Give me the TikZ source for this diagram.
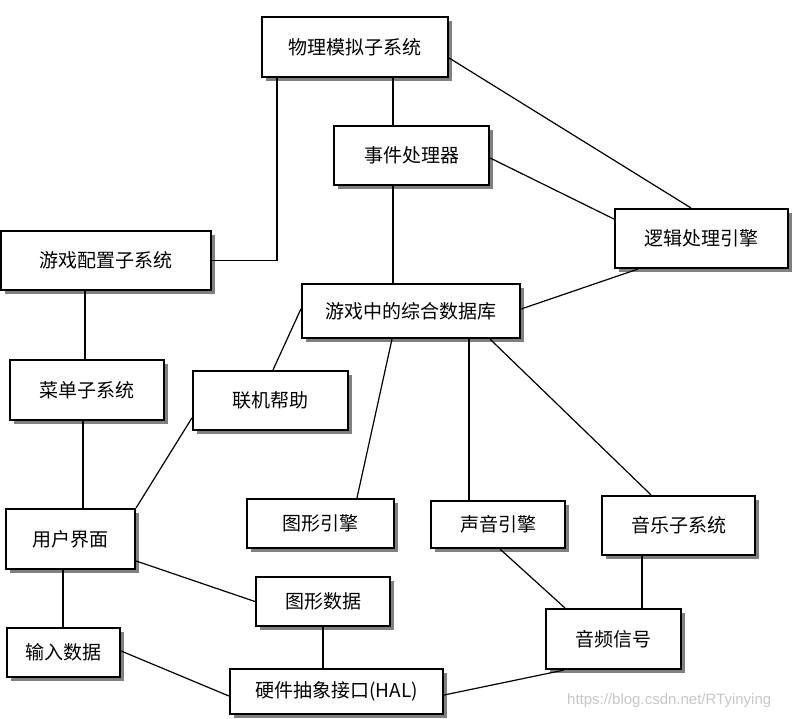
\documentclass[tikz,border=0pt]{standalone}
\usepackage{fontspec}
\newfontfamily\cjk{Noto Sans CJK SC}
\newfontfamily\wmfont{Liberation Sans}
\usetikzlibrary{shadows}
\tikzset{
  box/.style={draw=black, line width=2.2pt, fill=white, inner sep=0pt,
    font=\cjk\fontsize{19}{21}\selectfont,
    drop shadow={shadow xshift=4pt, shadow yshift=-4pt, fill=black!50, opacity=1}},
  link/.style={draw=black, line width=1.6pt},
  thin/.style={draw=black, line width=1.2pt}
}
\begin{document}
\begin{tikzpicture}[x=1pt, y=-1pt]
\useasboundingbox (0,0) rectangle (793,719);
% boxes
\node[box, minimum width=186pt, minimum height=60pt] (phys) at (355,47) {物理模拟子系统};
\node[box, minimum width=155pt, minimum height=59pt] (event) at (411.5,155.5) {事件处理器};
\node[box, minimum width=173pt, minimum height=59pt] (logic) at (701.5,238.5) {逻辑处理引擎};
\node[box, minimum width=210pt, minimum height=59pt] (cfg) at (106,260.5) {游戏配置子系统};
\node[box, minimum width=218pt, minimum height=54pt] (db) at (411,311) {游戏中的综合数据库};
\node[box, minimum width=154pt, minimum height=60pt] (menu) at (87,390) {菜单子系统};
\node[box, minimum width=155pt, minimum height=59pt] (help) at (270.5,400.5) {联机帮助};
\node[box, minimum width=147pt, minimum height=49pt] (geng) at (320.5,523.5) {图形引擎};
\node[box, minimum width=134pt, minimum height=47pt] (seng) at (498,524.5) {声音引擎};
\node[box, minimum width=153pt, minimum height=59pt] (music) at (678.5,525.5) {音乐子系统};
\node[box, minimum width=129pt, minimum height=60pt] (ui) at (70.5,539) {用户界面};
\node[box, minimum width=134pt, minimum height=49pt] (gdata) at (323,601.5) {图形数据};
\node[box, minimum width=135pt, minimum height=60pt] (audio) at (613.5,639) {音频信号};
\node[box, minimum width=113pt, minimum height=49pt] (input) at (63.5,652.5) {输入数据};
\node[box, minimum width=213pt, minimum height=45pt] (hal) at (336.5,691.5) {硬件抽象接口(HAL)};
% connectors
\draw[link] ([xshift=16pt]phys.south west) |- (cfg.east);
\path ([xshift=-18.5pt]event.north) coordinate (pe);
\draw[link] (pe) -- (pe |- phys.south);
\draw[thin] ([yshift=-11pt]phys.east) -- ([xshift=77pt]logic.north west);
\draw[thin] ([yshift=-2.5pt]event.east) -- ([yshift=19.5pt]logic.west);
\path ([xshift=-18.5pt]event.south) coordinate (ed);
\draw[link] (ed) -- (ed |- db.north);
\draw[thin] ([xshift=24pt]logic.south west) -- ([yshift=2pt]db.east);
\path ([xshift=-21pt]cfg.south) coordinate (cm);
\draw[link] (cm) -- (cm |- menu.north);
\path ([xshift=-4pt]menu.south) coordinate (mu);
\draw[link] (mu) -- (mu |- ui.north);
\draw[thin] ([yshift=2pt]db.west) -- ([xshift=2.5pt]help.north);
\draw[thin] ([yshift=-17.5pt]help.west) -- (ui.north east);
\draw[thin] ([xshift=-19pt]db.south) -- ([xshift=36.5pt]geng.north);
\path ([xshift=-29pt]seng.north) coordinate (ds);
\draw[link] (ds) -- (ds |- db.south);
\draw[thin] ([xshift=79pt]db.south) -- ([xshift=-27.5pt]music.north);
\path ([xshift=-36.5pt]music.south) coordinate (ma);
\draw[link] (ma) -- (ma |- audio.north);
\draw[thin] ([xshift=2pt]seng.south) -- ([xshift=20pt]audio.north west);
\draw[thin] ([yshift=-22pt]ui.east) -- (gdata.west);
\path ([xshift=-7.5pt]ui.south) coordinate (ui2);
\draw[link] (ui2) -- (ui2 |- input.north);
\draw[link] (gdata.south) -- (gdata.south |- hal.north);
\draw[thin] ([yshift=1.5pt]input.east) -- ([yshift=-4.5pt]hal.west);
\draw[thin] ([yshift=-3.5pt]hal.east) -- ([xshift=19pt]audio.south west);
% watermark
\node[anchor=west, inner sep=0pt, text=black!22, font=\wmfont\fontsize{15}{16}\selectfont] (wm) at (567,701) {https://blog.csdn.net/RTyinying};
\end{tikzpicture}
\end{document}
